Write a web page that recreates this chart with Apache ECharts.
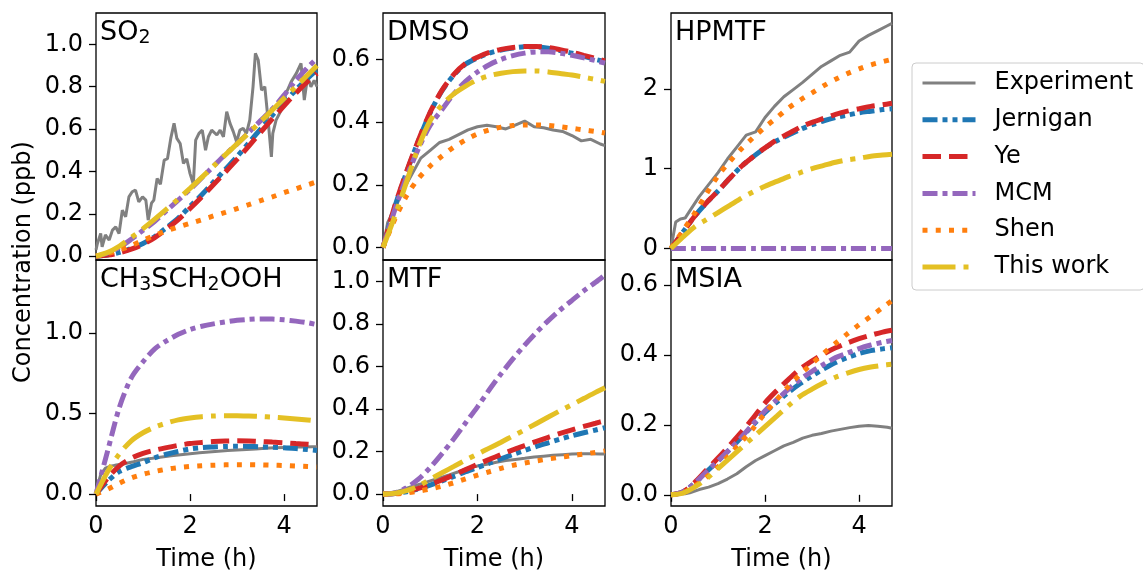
<!DOCTYPE html>
<html>
  <head>
    <meta charset="utf-8">
    <title>DMS oxidation products</title>
    <style>
      html, body { margin: 0; padding: 0; background: #fff; }
      #chart { width: 1143px; height: 573px; }
    </style>
  </head>
  <body>
    <div id="chart"></div>
    <script src="https://cdn.jsdelivr.net/npm/echarts@6/dist/echarts.min.js"></script>
    <script>
      // Time grids (h)
      var modelT = [0, 0.25, 0.5, 0.75, 1, 1.25, 1.5, 1.75, 2, 2.25, 2.5, 2.75, 3, 3.25, 3.5, 3.75, 4, 4.25, 4.5, 4.7];
      var expT = [0, 0.1, 0.2, 0.3, 0.4, 0.6, 0.8, 1.0, 1.2, 1.4, 1.6, 1.8, 2.0, 2.2, 2.4, 2.6, 2.8, 3.0, 3.2, 3.4, 3.6, 3.8, 4.0, 4.2, 4.4, 4.6, 4.7];
      var so2ExpT = [0, 0.03, 0.1, 0.13, 0.2, 0.28, 0.35, 0.42, 0.49, 0.56, 0.63, 0.7, 0.77, 0.84, 0.91, 0.99, 1.06, 1.11, 1.18, 1.23,
        1.3, 1.37, 1.45, 1.52, 1.59, 1.66, 1.72, 1.79, 1.86, 1.93, 2.0, 2.07, 2.12, 2.19, 2.26, 2.33, 2.39, 2.46, 2.57, 2.64,
        2.71, 2.78, 2.85, 2.92, 2.99, 3.06, 3.13, 3.2, 3.27, 3.34, 3.39, 3.45, 3.52, 3.59, 3.66, 3.73, 3.76, 3.83, 3.94, 4.04,
        4.15, 4.26, 4.36, 4.43, 4.5, 4.57, 4.64, 4.7];

      // SO2 (ppb)
      var so2Exp = [0.03, 0.06, 0.107, 0.044, 0.1, 0.076, 0.123, 0.138, 0.107, 0.217, 0.186, 0.28, 0.304, 0.312, 0.256, 0.28, 0.265, 0.17, 0.25, 0.265,
        0.367, 0.34, 0.453, 0.46, 0.556, 0.627, 0.556, 0.532, 0.438, 0.46, 0.39, 0.34, 0.548, 0.58, 0.595, 0.5, 0.564, 0.595, 0.572, 0.595,
        0.564, 0.682, 0.627, 0.588, 0.54, 0.595, 0.603, 0.58, 0.642, 0.80, 0.957, 0.926, 0.784, 0.80, 0.642, 0.469, 0.58, 0.642, 0.69, 0.768,
        0.823, 0.863, 0.91, 0.737, 0.847, 0.80, 0.83, 0.80];
      var so2Jernigan = [0, 0.006, 0.018, 0.036, 0.06, 0.093, 0.135, 0.18, 0.235, 0.29, 0.35, 0.41, 0.47, 0.535, 0.6, 0.665, 0.725, 0.785, 0.84, 0.88];
      var so2Ye = [0, 0.005, 0.016, 0.033, 0.056, 0.088, 0.128, 0.173, 0.225, 0.28, 0.338, 0.397, 0.457, 0.52, 0.585, 0.648, 0.71, 0.77, 0.825, 0.863];
      var so2MCM = [0, 0.015, 0.042, 0.08, 0.122, 0.165, 0.215, 0.265, 0.315, 0.37, 0.425, 0.48, 0.53, 0.585, 0.64, 0.695, 0.76, 0.83, 0.89, 0.935];
      var so2Shen = [0, 0.012, 0.03, 0.05, 0.075, 0.098, 0.12, 0.138, 0.155, 0.172, 0.19, 0.207, 0.225, 0.243, 0.262, 0.28, 0.3, 0.318, 0.337, 0.351];
      var so2ThisWork = [0, 0.018, 0.048, 0.088, 0.13, 0.175, 0.222, 0.27, 0.32, 0.372, 0.425, 0.478, 0.53, 0.582, 0.635, 0.69, 0.745, 0.8, 0.855, 0.9];

      // DMSO
      var dmsoExp = [0, 0.08, 0.11, 0.14, 0.175, 0.23, 0.285, 0.31, 0.335, 0.345, 0.36, 0.375, 0.385, 0.39, 0.385, 0.378, 0.39, 0.403, 0.385, 0.382, 0.375, 0.37, 0.357, 0.34, 0.345, 0.33, 0.325];
      var dmsoJernigan = [0, 0.13, 0.24, 0.34, 0.43, 0.5, 0.55, 0.585, 0.605, 0.62, 0.63, 0.636, 0.64, 0.64, 0.636, 0.628, 0.62, 0.61, 0.6, 0.593];
      var dmsoYe = [0, 0.132, 0.243, 0.342, 0.432, 0.502, 0.552, 0.587, 0.607, 0.622, 0.632, 0.638, 0.641, 0.641, 0.638, 0.631, 0.623, 0.613, 0.603, 0.595];
      var dmsoMCM = [0, 0.12, 0.225, 0.315, 0.39, 0.44, 0.49, 0.53, 0.56, 0.583, 0.6, 0.612, 0.62, 0.624, 0.624, 0.62, 0.613, 0.605, 0.596, 0.588];
      var dmsoShen = [0, 0.09, 0.165, 0.22, 0.26, 0.292, 0.32, 0.343, 0.362, 0.375, 0.384, 0.389, 0.391, 0.391, 0.389, 0.385, 0.38, 0.375, 0.37, 0.365];
      var dmsoThisWork = [0, 0.1, 0.21, 0.32, 0.405, 0.455, 0.49, 0.515, 0.535, 0.548, 0.556, 0.561, 0.563, 0.563, 0.56, 0.555, 0.55, 0.543, 0.536, 0.53];

      // HPMTF
      var hpmtfExp = [0, 0.33, 0.37, 0.38, 0.47, 0.65, 0.8, 0.95, 1.12, 1.27, 1.42, 1.46, 1.64, 1.78, 1.9, 1.99, 2.08, 2.18, 2.28, 2.35, 2.42, 2.46, 2.6, 2.67, 2.73, 2.79, 2.82];
      var hpmtfJernigan = [0, 0.2, 0.4, 0.57, 0.72, 0.88, 1.03, 1.15, 1.26, 1.35, 1.42, 1.49, 1.55, 1.6, 1.64, 1.67, 1.7, 1.72, 1.74, 1.75];
      var hpmtfYe = [0, 0.2, 0.4, 0.57, 0.72, 0.88, 1.03, 1.15, 1.26, 1.36, 1.44, 1.52, 1.58, 1.63, 1.68, 1.72, 1.75, 1.78, 1.8, 1.82];
      var hpmtfMCM = [0, 0, 0, 0, 0, 0, 0, 0, 0, 0, 0, 0, 0, 0, 0, 0, 0, 0, 0, 0];
      var hpmtfShen = [0, 0.22, 0.44, 0.68, 0.91, 1.09, 1.25, 1.39, 1.52, 1.64, 1.76, 1.86, 1.95, 2.04, 2.12, 2.19, 2.25, 2.3, 2.34, 2.37];
      var hpmtfThisWork = [0, 0.14, 0.27, 0.36, 0.45, 0.54, 0.63, 0.71, 0.78, 0.84, 0.9, 0.95, 1.0, 1.04, 1.08, 1.11, 1.13, 1.155, 1.17, 1.18];

      // CH3SCH2OOH
      var oohExp = [0.02, 0.12, 0.16, 0.172, 0.178, 0.188, 0.2, 0.215, 0.222, 0.23, 0.238, 0.244, 0.25, 0.256, 0.261, 0.265, 0.27, 0.273, 0.276, 0.28, 0.284, 0.287, 0.289, 0.291, 0.292, 0.294, 0.294];
      var oohJernigan = [0, 0.08, 0.14, 0.17, 0.195, 0.225, 0.247, 0.265, 0.28, 0.288, 0.292, 0.295, 0.296, 0.295, 0.293, 0.29, 0.287, 0.282, 0.276, 0.27];
      var oohYe = [0, 0.1, 0.175, 0.222, 0.252, 0.272, 0.288, 0.302, 0.313, 0.32, 0.326, 0.329, 0.33, 0.329, 0.326, 0.322, 0.318, 0.313, 0.309, 0.305];
      var oohMCM = [0, 0.27, 0.54, 0.72, 0.82, 0.9, 0.95, 0.99, 1.02, 1.04, 1.055, 1.067, 1.077, 1.083, 1.086, 1.085, 1.08, 1.072, 1.062, 1.05];
      var oohShen = [0, 0.03, 0.068, 0.1, 0.123, 0.14, 0.154, 0.164, 0.171, 0.176, 0.179, 0.181, 0.182, 0.182, 0.181, 0.179, 0.177, 0.174, 0.171, 0.168];
      var oohThisWork = [0, 0.14, 0.25, 0.33, 0.38, 0.415, 0.44, 0.46, 0.472, 0.48, 0.484, 0.486, 0.486, 0.484, 0.481, 0.477, 0.472, 0.466, 0.459, 0.453];

      // MTF
      var mtfExp = [0, 0.004, 0.008, 0.013, 0.02, 0.035, 0.048, 0.062, 0.076, 0.09, 0.105, 0.122, 0.132, 0.14, 0.15, 0.158, 0.163, 0.168, 0.174, 0.178, 0.182, 0.185, 0.188, 0.189, 0.189, 0.188, 0.188];
      var mtfJernigan = [0, 0.003, 0.011, 0.025, 0.042, 0.062, 0.083, 0.105, 0.125, 0.145, 0.166, 0.186, 0.205, 0.224, 0.241, 0.258, 0.274, 0.288, 0.301, 0.312];
      var mtfYe = [0, 0.003, 0.012, 0.027, 0.045, 0.067, 0.09, 0.115, 0.14, 0.163, 0.186, 0.208, 0.228, 0.248, 0.267, 0.285, 0.302, 0.318, 0.333, 0.345];
      var mtfMCM = [0, 0.005, 0.03, 0.07, 0.125, 0.19, 0.26, 0.335, 0.41, 0.49, 0.565, 0.635, 0.7, 0.76, 0.815, 0.865, 0.91, 0.955, 0.995, 1.03];
      var mtfShen = [0, 0.001, 0.005, 0.014, 0.024, 0.037, 0.053, 0.071, 0.089, 0.105, 0.121, 0.135, 0.146, 0.156, 0.165, 0.173, 0.181, 0.188, 0.196, 0.203];
      var mtfThisWork = [0, 0.004, 0.016, 0.038, 0.07, 0.1, 0.13, 0.16, 0.188, 0.216, 0.244, 0.273, 0.302, 0.332, 0.362, 0.392, 0.42, 0.449, 0.478, 0.5];

      // MSIA
      var msiaExp = [0, 0, 0.002, 0.003, 0.006, 0.015, 0.022, 0.032, 0.045, 0.06, 0.08, 0.098, 0.112, 0.126, 0.14, 0.15, 0.162, 0.17, 0.175, 0.182, 0.187, 0.192, 0.196, 0.198, 0.196, 0.193, 0.19];
      var msiaJernigan = [0, 0.008, 0.033, 0.065, 0.097, 0.13, 0.165, 0.2, 0.235, 0.265, 0.293, 0.318, 0.34, 0.36, 0.378, 0.392, 0.404, 0.412, 0.417, 0.42];
      var msiaYe = [0, 0.008, 0.035, 0.07, 0.105, 0.142, 0.18, 0.22, 0.263, 0.298, 0.33, 0.36, 0.383, 0.403, 0.42, 0.434, 0.446, 0.456, 0.465, 0.47];
      var msiaMCM = [0, 0.008, 0.033, 0.065, 0.097, 0.13, 0.165, 0.203, 0.24, 0.272, 0.302, 0.33, 0.353, 0.373, 0.392, 0.405, 0.418, 0.428, 0.436, 0.441];
      var msiaShen = [0, 0.005, 0.025, 0.05, 0.08, 0.115, 0.152, 0.19, 0.233, 0.272, 0.31, 0.345, 0.375, 0.405, 0.433, 0.46, 0.486, 0.51, 0.535, 0.555];
      var msiaThisWork = [0, 0.005, 0.022, 0.045, 0.075, 0.105, 0.135, 0.165, 0.195, 0.225, 0.255, 0.282, 0.302, 0.32, 0.336, 0.348, 0.358, 0.365, 0.37, 0.373];

      var names = ['Experiment', 'Jernigan', 'Ye', 'MCM', 'Shen', 'This work'];
      var colors = ['#808080', '#1f77b4', '#d62728', '#9467bd', '#ff7f0e', '#e4c024'];
      var dashes = ['solid', [15, 5, 5, 5, 5, 5], [18.5, 8], [15, 5, 5, 5], [5, 8.25], [33, 8, 5, 8]];
      var widths = [3, 5, 5, 5, 5, 5];
      var FONT = 'DejaVu Sans';

      // panel layout: title, grid position, y range, y ticks, label decimals, bottom row or not
      var panels = [
        { title: '{m|SO}{s|2}', left: 96, top: 13, width: 221, ymin: -0.018, ymax: 1.148, ticks: [0, 0.2, 0.4, 0.6, 0.8, 1.0], dec: 1, bottom: false,
          expT: so2ExpT, sets: [so2Exp, so2Jernigan, so2Ye, so2MCM, so2Shen, so2ThisWork] },
        { title: '{m|DMSO}', left: 383, top: 13, width: 222, ymin: -0.04, ymax: 0.748, ticks: [0, 0.2, 0.4, 0.6], dec: 1, bottom: false,
          expT: expT, sets: [dmsoExp, dmsoJernigan, dmsoYe, dmsoMCM, dmsoShen, dmsoThisWork] },
        { title: '{m|HPMTF}', left: 671, top: 13, width: 221, ymin: -0.145, ymax: 2.95, ticks: [0, 1, 2], dec: 0, bottom: false,
          expT: expT, sets: [hpmtfExp, hpmtfJernigan, hpmtfYe, hpmtfMCM, hpmtfShen, hpmtfThisWork] },
        { title: '{m|CH}{s|3}{m|SCH}{s|2}{m|OOH}', left: 96, top: 260, width: 221, ymin: -0.074, ymax: 1.451, ticks: [0, 0.5, 1.0], dec: 1, bottom: true,
          expT: expT, sets: [oohExp, oohJernigan, oohYe, oohMCM, oohShen, oohThisWork] },
        { title: '{m|MTF}', left: 383, top: 260, width: 222, ymin: -0.056, ymax: 1.10, ticks: [0, 0.2, 0.4, 0.6, 0.8, 1.0], dec: 1, bottom: true,
          expT: expT, sets: [mtfExp, mtfJernigan, mtfYe, mtfMCM, mtfShen, mtfThisWork] },
        { title: '{m|MSIA}', left: 671, top: 260, width: 221, ymin: -0.032, ymax: 0.671, ticks: [0, 0.2, 0.4, 0.6], dec: 1, bottom: true,
          expT: expT, sets: [msiaExp, msiaJernigan, msiaYe, msiaMCM, msiaShen, msiaThisWork] }
      ];

      function pairs(xs, ys) {
        return ys.map(function(v, i) { return [xs[i], v]; });
      }

      var grids = [], xAxes = [], yAxes = [], titles = [], series = [];
      panels.forEach(function(p, i) {
        grids.push({
          left: p.left, top: p.top, width: p.width, height: 247,
          show: true, borderColor: '#000', borderWidth: 1.3, backgroundColor: 'transparent'
        });
        xAxes.push({
          type: 'value', gridIndex: i, min: 0, max: 4.7, interval: 2,
          axisLine: { show: false },
          splitLine: { show: false },
          axisTick: { show: p.bottom, length: 7, lineStyle: { color: '#000', width: 1.3 }, customValues: [0, 2, 4] },
          axisLabel: { show: p.bottom, margin: 9, fontFamily: FONT, fontSize: 24, color: '#000', customValues: [0, 2, 4],
            formatter: function(v) { return v.toFixed(0); } },
          name: p.bottom ? 'Time (h)' : '', nameLocation: 'middle', nameGap: 42,
          nameTextStyle: { fontFamily: FONT, fontSize: 24, color: '#000' }
        });
        yAxes.push({
          type: 'value', gridIndex: i, min: p.ymin, max: p.ymax,
          axisLine: { show: false },
          splitLine: { show: false },
          axisTick: { show: true, length: 7, lineStyle: { color: '#000', width: 1.3 }, customValues: p.ticks },
          axisLabel: { margin: 13, fontFamily: FONT, fontSize: 24, color: '#000', customValues: p.ticks,
            formatter: (function(d) { return function(v) { return v.toFixed(d); }; })(p.dec) }
        });
        titles.push({
          text: p.title, left: p.left + 4, top: p.top + 3.6, padding: 0,
          textStyle: {
            fontWeight: 'normal',
            rich: {
              m: { fontFamily: FONT, fontSize: 27, fontWeight: 'normal', lineHeight: 32, color: '#000', verticalAlign: 'middle' },
              s: { fontFamily: FONT, fontSize: 19, fontWeight: 'normal', lineHeight: 19, color: '#000', verticalAlign: 'middle', padding: [10, 0, 0, 0] }
            }
          }
        });
        p.sets.forEach(function(vals, k) {
          series.push({
            name: names[k], type: 'line', xAxisIndex: i, yAxisIndex: i,
            data: pairs(k === 0 ? p.expT : modelT, vals),
            symbol: 'none', smooth: k === 0 ? false : 0.3, silent: true, z: 2 + k,
            itemStyle: { color: colors[k] },
            lineStyle: { color: colors[k], width: widths[k], type: dashes[k], cap: 'butt' }
          });
        });
      });

      var chart = echarts.init(document.getElementById('chart'));
      chart.setOption({
        animation: false,
        backgroundColor: '#fff',
        title: titles,
        grid: grids,
        xAxis: xAxes,
        yAxis: yAxes,
        legend: {
          data: names, orient: 'vertical', left: 912, top: 63,
          itemWidth: 53, itemHeight: 14, itemGap: 12.8,
          padding: [8, 11, 11, 8],
          borderColor: '#cccccc', borderWidth: 1, borderRadius: 4,
          backgroundColor: 'rgba(255,255,255,0.8)',
          itemStyle: { opacity: 0 },
          lineStyle: { width: 'inherit', type: 'inherit', cap: 'butt' },
          textStyle: { fontFamily: FONT, fontSize: 24, lineHeight: 24, color: '#000', padding: [0, 0, 0, 14] }
        },
        graphic: [{
          type: 'text', x: 24, y: 262, rotation: Math.PI / 2,
          style: { text: 'Concentration (ppb)', fontFamily: FONT, fontSize: 24, fill: '#000', align: 'center', verticalAlign: 'middle' }
        }],
        series: series
      });
    </script>
  </body>
</html>
